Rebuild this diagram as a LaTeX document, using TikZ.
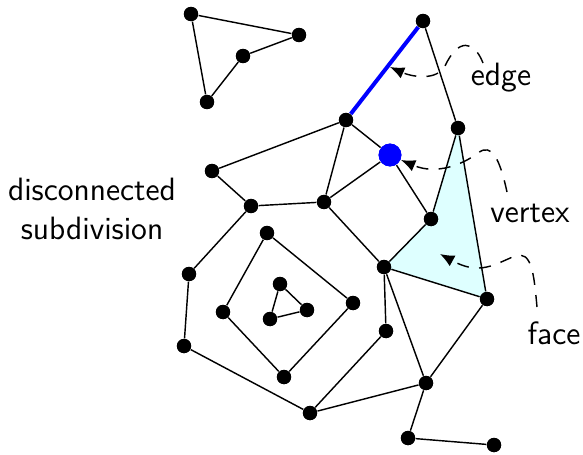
\documentclass[tikz,border=0pt]{standalone}
\usetikzlibrary{arrows.meta}
\definecolor{facecol}{rgb}{0.87,1,1}
\begin{document}
\begin{tikzpicture}[x=0.35pt,y=-0.35pt,
  dot/.style={circle,fill=black,inner sep=0pt,minimum size=5pt},
  bigdot/.style={circle,fill=blue,inner sep=0pt,minimum size=8pt},
  edg/.style={line width=0.5pt},
  lbl/.style={font=\sffamily\fontsize{11.3}{13.4}\selectfont,inner sep=0pt},
  callout/.style={dashed,dash pattern=on 4.2pt off 3.6pt,line width=0.5pt,-{Latex[length=5pt,width=4.2pt]}}]
\useasboundingbox (0,0) rectangle (583,454);
% face fill
\fill[facecol] (458,128) -- (431,219) -- (384,267) -- (487,299) -- cycle;
% nodes
\node[dot] (A1) at (191,14) {};
\node[dot] (A2) at (299,35) {};
\node[dot] (A3) at (243,56) {};
\node[dot] (A4) at (207,102) {};
\node[dot] (T) at (423,21) {};
\node[dot] (P) at (346,120) {};
\node[dot] (Q) at (458,128) {};
\node[bigdot] (V) at (390,155) {};
\node[dot] (L) at (212,171) {};
\node[dot] (M) at (251,206) {};
\node[dot] (N) at (324,202) {};
\node[dot] (R) at (431,219) {};
\node[dot] (S) at (384,267) {};
\node[dot] (U) at (487,299) {};
\node[dot] (I1) at (267,233) {};
\node[dot] (I2) at (353,303) {};
\node[dot] (I3) at (284,377) {};
\node[dot] (I4) at (223,312) {};
\node[dot] (J1) at (280,284) {};
\node[dot] (J2) at (307,310) {};
\node[dot] (J3) at (270,319) {};
\node[dot] (O1) at (189,274) {};
\node[dot] (O2) at (184,346) {};
\node[dot] (O3) at (310,413) {};
\node[dot] (O4) at (386,331) {};
\node[dot] (W) at (426,383) {};
\node[dot] (X) at (408,438) {};
\node[dot] (Y) at (494,445) {};
% edges
\draw[edg] (A1) -- (A2) -- (A3) -- (A4) -- (A1);
\draw[blue,line width=1.4pt] (T) -- (P);
\draw[edg] (T) -- (Q);
\draw[edg] (P) -- (L);
\draw[edg] (P) -- (N);
\draw[edg] (P) -- (V);
\draw[edg] (L) -- (M);
\draw[edg] (M) -- (N);
\draw[edg] (N) -- (V);
\draw[edg] (V) -- (R);
\draw[edg] (Q) -- (R);
\draw[edg] (R) -- (S);
\draw[edg] (S) -- (U);
\draw[edg] (U) -- (Q);
\draw[edg] (N) -- (S);
\draw[edg] (S) -- (O4);
\draw[edg] (S) -- (W);
\draw[edg] (U) -- (W);
\draw[edg] (W) -- (X);
\draw[edg] (X) -- (Y);
\draw[edg] (M) -- (O1);
\draw[edg] (O1) -- (O2);
\draw[edg] (O2) -- (O3);
\draw[edg] (O3) -- (O4);
\draw[edg] (O3) -- (W);
\draw[edg] (I1) -- (I2) -- (I3) -- (I4) -- (I1);
\draw[edg] (J1) -- (J2) -- (J3) -- (J1);
% redraw dots on top
\foreach \n in {A1,A2,A3,A4,T,P,Q,L,M,N,R,S,U,I1,I2,I3,I4,J1,J2,J3,O1,O2,O3,O4,W,X,Y}
  \fill (\n) circle (2.5pt);
\fill[blue] (V) circle (4pt);
% labels
\node[lbl,align=center] (dis) at (92,209) {disconnected\\subdivision};
\node[lbl] (le) at (501,78) {edge};
\node[lbl] (lv) at (530,213) {vertex};
\node[lbl] (lf) at (554,333) {face};
% callouts
\coordinate (es) at (483,63);
\coordinate (et) at (390,67);
\coordinate (vs) at (507,192);
\coordinate (vt) at (401,160);
\coordinate (fs) at (537,307);
\coordinate (ft) at (440,254);
\draw[callout] (es) .. controls (474,40) and (458,38) .. (445,66) .. controls (436,82) and (410,76) .. (et);
\draw[callout] (vs) .. controls (500,160) and (492,142) .. (478,153) .. controls (462,165) and (436,175) .. (vt);
\draw[callout] (fs) .. controls (534,275) and (532,250) .. (515,256) .. controls (495,264) and (480,276) .. (ft);
\end{tikzpicture}
\end{document}
